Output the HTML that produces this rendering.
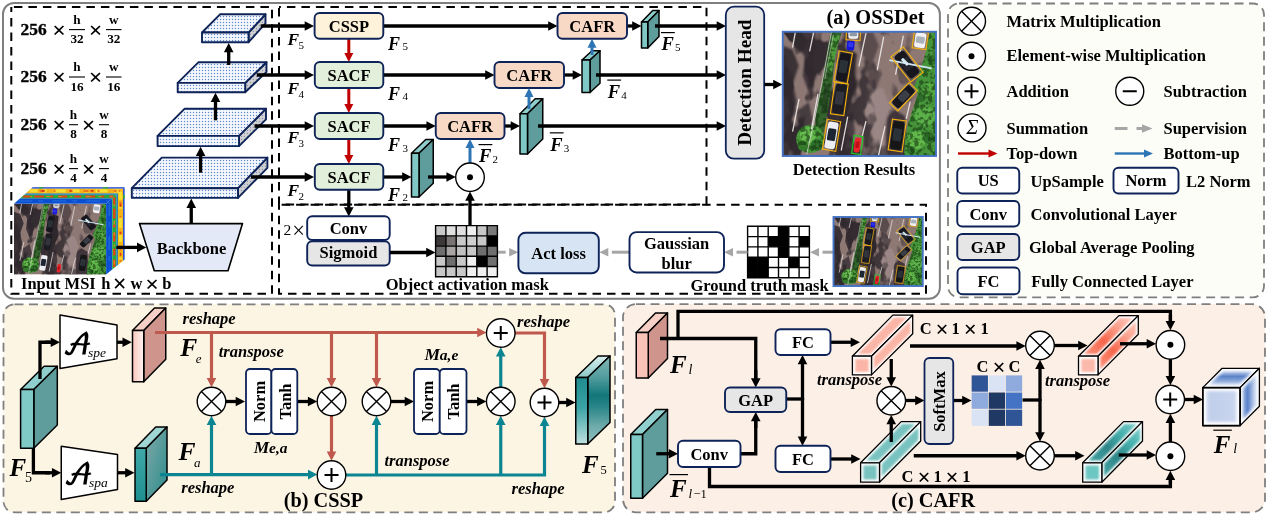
<!DOCTYPE html>
<html><head><meta charset="utf-8"><title>OSSDet</title>
<style>
html,body{margin:0;padding:0;background:#fff;}
body{width:1268px;height:516px;overflow:hidden;}
svg{display:block;will-change:transform;}
</style></head><body>
<svg width="1268" height="516" viewBox="0 0 1268 516" font-family="'Liberation Serif','DejaVu Serif',serif" font-weight="bold" fill="#000">
<defs>
<pattern id="dots" width="3" height="3" patternUnits="userSpaceOnUse"><rect width="3" height="3" fill="#f6f8fd"/><rect x="0.9" y="0.9" width="1.2" height="1.2" fill="#5b86d0"/></pattern>
<pattern id="dotsg" width="3" height="3" patternUnits="userSpaceOnUse"><rect width="3" height="3" fill="#d4d4d4"/><rect x="0.8" y="0.8" width="1.3" height="1.3" fill="#8a96b0"/></pattern>
<linearGradient id="gPinkF" x1="0" y1="0" x2="1" y2="0"><stop offset="0" stop-color="#f9c6bc"/><stop offset="1" stop-color="#fff3f0"/></linearGradient>
<linearGradient id="gTealDF" x1="0" y1="0" x2="0" y2="1"><stop offset="0" stop-color="#3fa9a9"/><stop offset="1" stop-color="#1f8f8f"/></linearGradient>
<linearGradient id="gTealDS" x1="0" y1="0" x2="1" y2="1"><stop offset="0" stop-color="#7fa9a8"/><stop offset="1" stop-color="#2c8c8c"/></linearGradient>
<linearGradient id="gOutF" x1="0" y1="0" x2="0" y2="1"><stop offset="0" stop-color="#1f8c90"/><stop offset="0.45" stop-color="#3aa3a5"/><stop offset="1" stop-color="#bfe0df"/></linearGradient>
<linearGradient id="gOutS" x1="0" y1="0" x2="0" y2="1"><stop offset="0" stop-color="#86b9b8"/><stop offset="0.25" stop-color="#4f9b9c"/><stop offset="0.45" stop-color="#12767a"/><stop offset="0.58" stop-color="#2a8689"/><stop offset="0.8" stop-color="#6fabab"/><stop offset="1" stop-color="#8fbfbe"/></linearGradient>
<linearGradient id="gOutT" x1="0" y1="0" x2="0" y2="1"><stop offset="0" stop-color="#d8eeee"/><stop offset="1" stop-color="#8cc8c8"/></linearGradient>
<linearGradient id="gPbT" x1="0" y1="1" x2="1" y2="0"><stop offset="0" stop-color="#fbb5a5"/><stop offset="0.5" stop-color="#f58a74"/><stop offset="1" stop-color="#fcd5cb"/></linearGradient>
<linearGradient id="gPbS" x1="0" y1="1" x2="1" y2="0"><stop offset="0" stop-color="#fa9f8c"/><stop offset="0.5" stop-color="#f47a62"/><stop offset="1" stop-color="#fde0d8"/></linearGradient>
<radialGradient id="gPbF" cx="0.5" cy="0.5" r="0.7"><stop offset="0" stop-color="#f9a391"/><stop offset="0.6" stop-color="#fbbfb2"/><stop offset="1" stop-color="#fff"/></radialGradient>
<linearGradient id="gTbT" x1="0" y1="1" x2="1" y2="0"><stop offset="0" stop-color="#8fd0cc"/><stop offset="0.5" stop-color="#3f9f9f"/><stop offset="1" stop-color="#b5e0dc"/></linearGradient>
<linearGradient id="gTbS" x1="0" y1="1" x2="1" y2="0"><stop offset="0" stop-color="#6fc4c0"/><stop offset="0.5" stop-color="#2f8f90"/><stop offset="1" stop-color="#a5dcd8"/></linearGradient>
<radialGradient id="gTbF" cx="0.5" cy="0.5" r="0.7"><stop offset="0" stop-color="#5fbab6"/><stop offset="0.6" stop-color="#8fd0cc"/><stop offset="1" stop-color="#fff"/></radialGradient>
<linearGradient id="gCbF" x1="0" y1="0" x2="1" y2="0"><stop offset="0" stop-color="#d0daf0"/><stop offset="0.25" stop-color="#c2cfeb"/><stop offset="0.8" stop-color="#c8d4ed"/><stop offset="1" stop-color="#d5def2"/></linearGradient>
<linearGradient id="gCbT" x1="0" y1="0" x2="0" y2="1"><stop offset="0" stop-color="#eef2fa"/><stop offset="0.22" stop-color="#a9bde4"/><stop offset="0.42" stop-color="#5b83c8"/><stop offset="0.6" stop-color="#7f9fd6"/><stop offset="0.8" stop-color="#b4c6e8"/><stop offset="1" stop-color="#d5def2"/></linearGradient>
<linearGradient id="gCbS" x1="0" y1="0" x2="1" y2="0"><stop offset="0" stop-color="#a9bde4"/><stop offset="0.4" stop-color="#5b83c8"/><stop offset="0.7" stop-color="#b8c9ea"/><stop offset="1" stop-color="#eef2fa"/></linearGradient>
<linearGradient id="gMsiT" x1="0" y1="1" x2="0" y2="0"><stop offset="0" stop-color="#0b3fd0"/><stop offset="0.28" stop-color="#0a50d8"/><stop offset="0.3" stop-color="#30b040"/><stop offset="0.4" stop-color="#e04a10"/><stop offset="0.5" stop-color="#2aa84a"/><stop offset="0.58" stop-color="#1060d0"/><stop offset="0.66" stop-color="#f09010"/><stop offset="0.8" stop-color="#f8d020"/><stop offset="0.9" stop-color="#f09010"/><stop offset="1" stop-color="#1848c8"/></linearGradient>
<linearGradient id="gMsiS" x1="0" y1="0" x2="1" y2="0"><stop offset="0" stop-color="#0b3fd0"/><stop offset="0.28" stop-color="#0a50d8"/><stop offset="0.3" stop-color="#30b040"/><stop offset="0.4" stop-color="#e04a10"/><stop offset="0.5" stop-color="#2aa84a"/><stop offset="0.58" stop-color="#1060d0"/><stop offset="0.66" stop-color="#f09010"/><stop offset="0.8" stop-color="#f8d020"/><stop offset="0.9" stop-color="#f09010"/><stop offset="1" stop-color="#1848c8"/></linearGradient>
<filter id="bl3" x="-20%" y="-20%" width="140%" height="140%"><feGaussianBlur stdDeviation="0.9"/></filter>
<filter id="bl4" x="-20%" y="-20%" width="140%" height="140%"><feGaussianBlur stdDeviation="1.5"/></filter>
<filter id="bl" x="-20%" y="-20%" width="140%" height="140%"><feGaussianBlur stdDeviation="1.3"/></filter>
<filter id="bl2" x="-20%" y="-20%" width="140%" height="140%"><feGaussianBlur stdDeviation="0.6"/></filter>
<filter id="shad" x="0" y="0" width="100%" height="100%" color-interpolation-filters="sRGB"><feTurbulence type="fractalNoise" baseFrequency="0.045 0.03" numOctaves="3" seed="7" result="n"/><feColorMatrix in="n" type="matrix" values="0 0 0 0 0.19  0 0 0 0 0.16  0 0 0 0 0.18  0 0 0 9 -4.3"/><feGaussianBlur stdDeviation="0.5"/><feComposite in2="SourceGraphic" operator="in"/></filter>
<filter id="leaf" x="0" y="0" width="100%" height="100%" color-interpolation-filters="sRGB"><feTurbulence type="fractalNoise" baseFrequency="0.22" numOctaves="2" seed="3" result="n"/><feColorMatrix in="n" type="matrix" values="0 0 0 0 0.08  0 0 0 0 0.22  0 0 0 0 0.06  0 0 0 7 -3.3"/><feComposite in2="SourceGraphic" operator="in"/></filter>
<linearGradient id="shm" x1="0" y1="0" x2="1" y2="0"><stop offset="0" stop-color="#fff" stop-opacity="1"/><stop offset="0.3" stop-color="#fff" stop-opacity="0.95"/><stop offset="0.55" stop-color="#fff" stop-opacity="0.8"/><stop offset="0.75" stop-color="#fff" stop-opacity="0.45"/><stop offset="1" stop-color="#fff" stop-opacity="0.3"/></linearGradient>
<symbol id="scene" viewBox="0 0 153 124" preserveAspectRatio="none">
<rect width="153" height="124" fill="#8d7874"/>
<g filter="url(#bl)">
<polygon points="0,14 10,18 16,34 10,52 14,70 8,88 12,106 6,124 0,124" fill="#3a3035"/>
<polygon points="14,0 30,0 34,16 28,30 34,44 26,60 20,44 22,26 16,14" fill="#40363a"/>
<polygon points="16,78 26,70 30,88 24,104 16,100" fill="#473c40"/>
<polygon points="64,18 74,22 72,40 74,56 68,70 62,90 56,96 58,60 62,40" fill="#2e272b"/>
<polygon points="74,2 90,0 96,14 90,30 98,44 92,60 84,50 86,34 78,20" fill="#5a4b4d"/>
<polygon points="60,84 70,80 72,100 66,124 56,124" fill="#4a3e42"/>
<polygon points="104,84 112,78 122,84 124,124 102,124" fill="#40363a"/>
<polygon points="84,60 100,56 108,76 100,96 104,124 88,124 90,100 82,80" fill="#9a8684"/>
</g>
<rect width="153" height="124" fill="url(#shm)" filter="url(#shad)"/>
<g filter="url(#bl2)">
<polygon points="48,0 59,0 52.5,21 48.5,59 44,84 41,100 33,100 32.5,84 40,47 45,15" fill="#34632d"/>
<polygon points="50,3 57,4 53,22 49,40 45,38 47,20" fill="#4f9c3e"/>
<polygon points="42,52 47,54 44,80 38,82" fill="#2a4a28"/>
<circle cx="27.5" cy="107" r="14" fill="#4a9a3a"/>
<circle cx="25" cy="103" r="8" fill="#66bb50"/>
<circle cx="34" cy="113" r="6" fill="#2f7029"/>
<circle cx="20" cy="114" r="5" fill="#357a2c"/>
<polygon points="147,0 153,0 153,124 121,124 122,108 125,92 129,80 135,62 131,55 137,40 143,20" fill="#47953a"/>
<circle cx="142" cy="84" r="10" fill="#5cb048"/>
<circle cx="134" cy="108" r="9" fill="#62b84c"/>
<circle cx="147" cy="58" r="7" fill="#55a842"/>
<circle cx="146" cy="106" r="6" fill="#2f6f2a"/>
<circle cx="150" cy="28" r="5" fill="#33752c"/>
<circle cx="138" cy="66" r="4" fill="#2f6e29"/>
<circle cx="128" cy="118" r="4" fill="#2f6e29"/>
</g>
<g filter="url(#leaf)" opacity="0.6"><polygon points="48,0 59,0 52.5,21 48.5,59 44,84 41,100 33,100 32.5,84 40,47 45,15"/><polygon points="147,0 153,0 153,124 121,124 122,108 125,92 129,80 135,62 131,55 137,40 143,20"/><circle cx="27.5" cy="107" r="14"/></g>
<g stroke="#ece8e6" stroke-width="1.3" stroke-linecap="round" fill="none" opacity="0.92">
<path d="M12.4 1.3L9.9 15.2"/>
<path d="M30.7 1.3L26.9 19"/>
<path d="M83 1.9L76.1 34.1"/>
<path d="M100.7 5.7L94.4 37.9"/>
<path d="M120.3 4.5L112.7 42.3"/>
<path d="M16.2 67.6L9.9 99.1"/>
<path d="M35.1 62.5L28.8 96.6"/>
<path d="M64.8 85.2L58.5 118"/>
<path d="M83 89.6L79.3 104.2"/>
<path d="M102 94.7L95.7 123"/>
<path d="M127.2 70L123.4 86.5"/>
<path d="M48.5 1L40 47L32.5 84L24 122" stroke-width="0.9" opacity="0.85"/>
<path d="M50.5 3L42 47" stroke-width="0.7" opacity="0.7"/>
</g>
<g filter="url(#bl2)">
<g transform="translate(60.3 35.5) rotate(10)"><rect x="-5.25" y="-14.0" width="10.5" height="28" rx="2.5" fill="#17161c"/><rect x="-4.05" y="-7.0" width="8.1" height="12.6" rx="1.5" fill="#2c3138"/></g>
<g transform="translate(56.5 67) rotate(8)"><rect x="-5.25" y="-14.5" width="10.5" height="29" rx="2.5" fill="#1a1a20"/><rect x="-4.05" y="-7.25" width="8.1" height="13.05" rx="1.5" fill="#30363d"/></g>
<g transform="translate(48.7 103.4) rotate(9.5)"><rect x="-5.25" y="-13.5" width="10.5" height="27" rx="2.5" fill="#eceef2"/><rect x="-4.05" y="-6.75" width="8.1" height="12.15" rx="1.5" fill="#1f2530"/></g>
<g transform="translate(74.5 113) rotate(8)"><rect x="-3.0" y="-7.5" width="6" height="15" rx="2.5" fill="#e8252a"/><rect x="-1.8" y="-3.75" width="3.6" height="6.75" rx="1.5" fill="#c01018"/></g>
<g transform="translate(70.5 3) rotate(0)"><rect x="-5.0" y="-4.0" width="10" height="8" rx="2.5" fill="#f0f0f2"/><rect x="-3.8" y="-2.0" width="7.6" height="3.6" rx="1.5" fill="#9098a0"/></g>
<g transform="translate(67.8 13.3) rotate(5)"><rect x="-3.75" y="-5.25" width="7.5" height="10.5" rx="2" fill="#1414d8"/><rect x="-2.55" y="-2.625" width="5.1" height="4.7250000000000005" rx="1.5" fill="#3038e8"/></g>
<g transform="translate(137.3 8.5) rotate(8)"><rect x="-5.5" y="-7.5" width="11" height="15" rx="2.5" fill="#f2f2f4"/><rect x="-4.3" y="-3.75" width="8.6" height="6.75" rx="1.5" fill="#aab2ba"/></g>
<g transform="translate(124 32.7) rotate(-38)"><rect x="-6.0" y="-14.0" width="12" height="28" rx="2.5" fill="#16161b"/><rect x="-4.8" y="-7.0" width="9.6" height="12.6" rx="1.5" fill="#26282e"/></g>
<g transform="translate(120.5 64.8) rotate(44)"><rect x="-5.0" y="-12.5" width="10" height="25" rx="2.5" fill="#15151a"/><rect x="-3.8" y="-6.25" width="7.6" height="11.25" rx="1.5" fill="#3a3e46"/></g>
<g transform="translate(114.3 103.5) rotate(8)"><rect x="-5.5" y="-14.0" width="11" height="28" rx="2.5" fill="#131318"/><rect x="-4.3" y="-7.0" width="8.6" height="12.6" rx="1.5" fill="#2a3038"/></g>
<path d="M106.4 28.4L148.7 36.6" stroke="#cfe4f2" stroke-width="1.8"/>
<path d="M119 27L125 33" stroke="#d8ecf4" stroke-width="3"/>
</g>
</symbol>
<symbol id="boxes" viewBox="0 0 153 124" preserveAspectRatio="none">
<g fill="none" stroke="#f2b20c" stroke-width="1.15">
<rect transform="translate(60.3 35.5) rotate(10)" x="-6.75" y="-15.5" width="13.5" height="31"/>
<rect transform="translate(56.5 67) rotate(8)" x="-6.75" y="-16.0" width="13.5" height="32"/>
<rect transform="translate(48.7 103.4) rotate(9.5)" x="-6.75" y="-15.0" width="13.5" height="30"/>
<rect transform="translate(74.5 113) rotate(8)" x="-4.5" y="-9.0" width="9" height="18" stroke="#22c822"/>
<rect transform="translate(70.5 2.5) rotate(4)" x="-7.0" y="-6.0" width="14" height="12"/>
<rect transform="translate(137.3 8.5) rotate(8)" x="-7.0" y="-8.5" width="14" height="17"/>
<rect transform="translate(124 32.7) rotate(-38)" x="-7.85" y="-16.0" width="15.7" height="32"/>
<rect transform="translate(120.5 64.8) rotate(44)" x="-5.75" y="-14.1" width="11.5" height="28.2"/>
<rect transform="translate(114.3 103.5) rotate(8)" x="-7.0" y="-15.5" width="14" height="31"/>
</g></symbol>
</defs>
<rect x="3" y="3" width="936.9" height="295.7" rx="11" fill="#fff" stroke="#7f7f7f" stroke-width="2"/>
<rect x="948" y="3.5" width="316" height="293.8" rx="11" fill="#fdfdf8" stroke="#7f7f7f" stroke-width="1.8" stroke-dasharray="9 5.5"/>
<rect x="3.5" y="304.3" width="611.5" height="208" rx="11" fill="#fdf5e4" stroke="#7f7f7f" stroke-width="1.8" stroke-dasharray="9 5.5"/>
<rect x="623" y="304.1" width="642" height="208.2" rx="13" fill="#fcefe6" stroke="#7f7f7f" stroke-width="1.8" stroke-dasharray="9 5.5"/>
<rect x="11.3" y="6.9" width="260.7" height="286.9" fill="none" stroke="#000" stroke-width="2" stroke-dasharray="8.5 6" stroke-dashoffset="-2.6"/>
<rect x="279" y="6.9" width="427.5" height="197.5" fill="none" stroke="#000" stroke-width="2" stroke-dasharray="8.5 6" stroke-dashoffset="-7.9"/>
<rect x="279" y="204.7" width="647" height="89.1" fill="none" stroke="#000" stroke-width="2" stroke-dasharray="8.5 6" stroke-dashoffset="-2.6"/>
<text x="20.5" y="34.6" font-size="17.4" stroke="#000" stroke-width="0.35">256</text>
<text x="52.2" y="37.96" font-size="24" font-weight="bold">×</text>
<text x="77" y="23.9" font-size="13.2" text-anchor="middle" >h</text>
<path d="M69 29.6H85" stroke="#000" stroke-width="1.1"/>
<text x="77" y="43.3" font-size="13.2" text-anchor="middle" >32</text>
<text x="88.8" y="37.96" font-size="24" font-weight="bold">×</text>
<text x="113.75" y="23.9" font-size="13.2" text-anchor="middle" >w</text>
<path d="M106 29.6H121.5" stroke="#000" stroke-width="1.1"/>
<text x="113.75" y="43.3" font-size="13.2" text-anchor="middle" >32</text>
<text x="20.5" y="82" font-size="17.4" stroke="#000" stroke-width="0.35">256</text>
<text x="52.2" y="85.36" font-size="24" font-weight="bold">×</text>
<text x="77" y="71.3" font-size="13.2" text-anchor="middle" >h</text>
<path d="M69 77H85" stroke="#000" stroke-width="1.1"/>
<text x="77" y="90.7" font-size="13.2" text-anchor="middle" >16</text>
<text x="88.8" y="85.36" font-size="24" font-weight="bold">×</text>
<text x="113.75" y="71.3" font-size="13.2" text-anchor="middle" >w</text>
<path d="M106 77H121.5" stroke="#000" stroke-width="1.1"/>
<text x="113.75" y="90.7" font-size="13.2" text-anchor="middle" >16</text>
<text x="20.5" y="129.7" font-size="17.4" stroke="#000" stroke-width="0.35">256</text>
<text x="52.2" y="133.06" font-size="24" font-weight="bold">×</text>
<text x="73.5" y="119" font-size="13.2" text-anchor="middle" >h</text>
<path d="M69 124.7H78" stroke="#000" stroke-width="1.1"/>
<text x="73.5" y="138.4" font-size="13.2" text-anchor="middle" >8</text>
<text x="81.8" y="133.06" font-size="24" font-weight="bold">×</text>
<text x="104" y="119" font-size="13.2" text-anchor="middle" >w</text>
<path d="M99 124.7H109" stroke="#000" stroke-width="1.1"/>
<text x="104" y="138.4" font-size="13.2" text-anchor="middle" >8</text>
<text x="20.5" y="173.6" font-size="17.4" stroke="#000" stroke-width="0.35">256</text>
<text x="52.2" y="176.96" font-size="24" font-weight="bold">×</text>
<text x="73.5" y="162.9" font-size="13.2" text-anchor="middle" >h</text>
<path d="M69 168.6H78" stroke="#000" stroke-width="1.1"/>
<text x="73.5" y="182.3" font-size="13.2" text-anchor="middle" >4</text>
<text x="81.8" y="176.96" font-size="24" font-weight="bold">×</text>
<text x="104" y="162.9" font-size="13.2" text-anchor="middle" >w</text>
<path d="M99 168.6H109" stroke="#000" stroke-width="1.1"/>
<text x="104" y="182.3" font-size="13.2" text-anchor="middle" >4</text>
<polygon points="139.5,223.6 242.5,223.6 228,270.7 154.3,270.7" fill="#e3e9f6" stroke="#000" stroke-width="1.6" stroke-linejoin="round" />
<text x="191.5" y="254" font-size="16.5" text-anchor="middle" >Backbone</text>
<polyline points="191.25,223.5 191.25,206.9" fill="none" stroke="#000" stroke-width="3.3" stroke-linejoin="miter" />
<polygon points="191.25,198.6 196.05,207.9 186.45,207.9" fill="#000"/>
<polygon points="238,188.2 267.4,157.6 267.4,167.8 238,197.9" fill="url(#dotsg)" stroke="#0e2358" stroke-width="1.9" stroke-linejoin="round" />
<polygon points="161.8,157.6 267.4,157.6 238,188.2 131.8,188.2" fill="url(#dots)" stroke="#0e2358" stroke-width="1.9" stroke-linejoin="round" />
<polygon points="131.8,188.2 238,188.2 238,197.9 131.8,197.9" fill="url(#dots)" stroke="#0e2358" stroke-width="1.9" stroke-linejoin="round" />
<polyline points="200.6,172.7 200.6,155.1" fill="none" stroke="#000" stroke-width="3.3" stroke-linejoin="miter" />
<polygon points="200.6,146.8 205.4,156.1 195.8,156.1" fill="#000"/>
<polygon points="239,135.9 266,108.7 266,119.4 239,146.1" fill="url(#dotsg)" stroke="#0e2358" stroke-width="1.9" stroke-linejoin="round" />
<polygon points="184.7,108.7 266,108.7 239,135.9 157.6,135.9" fill="url(#dots)" stroke="#0e2358" stroke-width="1.9" stroke-linejoin="round" />
<polygon points="157.6,135.9 239,135.9 239,146.1 157.6,146.1" fill="url(#dots)" stroke="#0e2358" stroke-width="1.9" stroke-linejoin="round" />
<polyline points="215.5,120.3 215.5,101.1" fill="none" stroke="#000" stroke-width="3.3" stroke-linejoin="miter" />
<polygon points="215.5,92.8 220.3,102.1 210.7,102.1" fill="#000"/>
<polygon points="245.2,82.9 266.5,62.2 266.5,71.9 245.2,92.2" fill="url(#dotsg)" stroke="#0e2358" stroke-width="1.9" stroke-linejoin="round" />
<polygon points="198.6,62.2 266.5,62.2 245.2,82.9 177.7,82.9" fill="url(#dots)" stroke="#0e2358" stroke-width="1.9" stroke-linejoin="round" />
<polygon points="177.7,82.9 245.2,82.9 245.2,92.2 177.7,92.2" fill="url(#dots)" stroke="#0e2358" stroke-width="1.9" stroke-linejoin="round" />
<polyline points="228.7,65 228.7,51.3" fill="none" stroke="#000" stroke-width="3.3" stroke-linejoin="miter" />
<polygon points="228.7,43 233.5,52.3 223.9,52.3" fill="#000"/>
<polygon points="248.6,32.5 265.5,14.3 265.5,23.4 248.6,42.2" fill="url(#dotsg)" stroke="#0e2358" stroke-width="1.9" stroke-linejoin="round" />
<polygon points="220,14.3 265.5,14.3 248.6,32.5 202,32.5" fill="url(#dots)" stroke="#0e2358" stroke-width="1.9" stroke-linejoin="round" />
<polygon points="202,32.5 248.6,32.5 248.6,42.2 202,42.2" fill="url(#dots)" stroke="#0e2358" stroke-width="1.9" stroke-linejoin="round" />
<polygon points="14,203.8 20.17,198.32 112.2,198.32 106.1,203.8" fill="#0a4fd2"/>
<polygon points="106.1,203.8 112.2,198.32 112.2,269.62 106.1,274.6" fill="#0a4fd2"/>
<polygon points="20.17,198.32 24.29,194.67 116.27,194.67 112.2,198.32" fill="#28a838"/>
<polygon points="112.2,198.32 116.27,194.67 116.27,266.3 112.2,269.62" fill="#28a838"/>
<polygon points="24.29,194.67 25.97,193.18 117.94,193.18 116.27,194.67" fill="#1278b8"/>
<polygon points="116.27,194.67 117.94,193.18 117.94,264.94 116.27,266.3" fill="#1278b8"/>
<polygon points="25.97,193.18 31.2,188.53 123.12,188.53 117.94,193.18" fill="#f6b414"/>
<polygon points="117.94,193.18 123.12,188.53 123.12,260.71 117.94,264.94" fill="#f6b414"/>
<polygon points="31.2,188.53 32.7,187.2 124.6,187.2 123.12,188.53" fill="#1040d0"/>
<polygon points="123.12,188.53 124.6,187.2 124.6,259.5 123.12,260.71" fill="#1040d0"/>
<path d="M23.23 196.5L113.24 196.5" stroke="#e8401a" stroke-width="2.2" stroke-dasharray="7 4 10 6 3 5 9 7" stroke-dashoffset="0" fill="none"/>
<path d="M114.24 197.5L114.24 266.96" stroke="#e8401a" stroke-width="2.2" stroke-dasharray="7 4 10 6 3 5 9 7" stroke-dashoffset="0" fill="none"/>
<path d="M23.23 196.5L113.24 196.5" stroke="#f08020" stroke-width="1.2" stroke-dasharray="3 9 2 14 4 8" stroke-dashoffset="5" fill="none"/>
<path d="M114.24 197.5L114.24 266.96" stroke="#f08020" stroke-width="1.2" stroke-dasharray="3 9 2 14 4 8" stroke-dashoffset="5" fill="none"/>
<path d="M29.59 190.85L119.53 190.85" stroke="#f8e030" stroke-width="3.4" stroke-dasharray="8 5 4 7 12 6" stroke-dashoffset="0" fill="none"/>
<path d="M120.53 191.85L120.53 261.82" stroke="#f8e030" stroke-width="3.4" stroke-dasharray="8 5 4 7 12 6" stroke-dashoffset="0" fill="none"/>
<path d="M29.59 190.85L119.53 190.85" stroke="#f07818" stroke-width="2.4" stroke-dasharray="3 11 5 9 2 14" stroke-dashoffset="4" fill="none"/>
<path d="M120.53 191.85L120.53 261.82" stroke="#f07818" stroke-width="2.4" stroke-dasharray="3 11 5 9 2 14" stroke-dashoffset="4" fill="none"/>
<path d="M29.59 190.85L119.53 190.85" stroke="#e03a14" stroke-width="1.6" stroke-dasharray="2 19 3 25" stroke-dashoffset="9" fill="none"/>
<path d="M120.53 191.85L120.53 261.82" stroke="#e03a14" stroke-width="1.6" stroke-dasharray="2 19 3 25" stroke-dashoffset="9" fill="none"/>
<path d="M18.18 200.98L108.24 200.98" stroke="#1c66d8" stroke-width="1.6" stroke-dasharray="14 6 5 9" stroke-dashoffset="0" fill="none"/>
<path d="M109.24 201.98L109.24 271.03" stroke="#1c66d8" stroke-width="1.6" stroke-dasharray="14 6 5 9" stroke-dashoffset="0" fill="none"/>
<path d="M32.95 187.86L122.86 187.86" stroke="#30b030" stroke-width="1.4" stroke-dasharray="4 60 5 200" stroke-dashoffset="-6" fill="none"/>
<path d="M123.86 188.86L123.86 259.1" stroke="#30b030" stroke-width="1.4" stroke-dasharray="4 60 5 200" stroke-dashoffset="-6" fill="none"/>
<use href="#scene" x="14" y="203.8" width="92.1" height="70.8"/>
<polyline points="116.3,247.4 138,247.4" fill="none" stroke="#000" stroke-width="3.3" stroke-linejoin="miter" />
<polygon points="146.3,247.4 137,252.2 137,242.6" fill="#000"/>
<text x="21" y="288.9" font-size="16.5" >Input MSI</text>
<text x="101.3" y="288.9" font-size="16.5" >h</text>
<text x="112.76" y="292.43" font-size="24.5" font-weight="bold">×</text>
<text x="130.5" y="288.9" font-size="16.5" >w</text>
<text x="145.2" y="292.26" font-size="24" font-weight="bold">×</text>
<text x="162.3" y="288.9" font-size="16.5" >b</text>
<polyline points="260.7,26 305.7,26" fill="none" stroke="#000" stroke-width="3.3" stroke-linejoin="miter" />
<polygon points="314,26 304.7,30.8 304.7,21.2" fill="#000"/>
<polyline points="256.8,75 305.7,75" fill="none" stroke="#000" stroke-width="3.3" stroke-linejoin="miter" />
<polygon points="314,75 304.7,79.8 304.7,70.2" fill="#000"/>
<polyline points="254.5,126 305.7,126" fill="none" stroke="#000" stroke-width="3.3" stroke-linejoin="miter" />
<polygon points="314,126 304.7,130.8 304.7,121.2" fill="#000"/>
<polyline points="251,177 305.7,177" fill="none" stroke="#000" stroke-width="3.3" stroke-linejoin="miter" />
<polygon points="314,177 304.7,181.8 304.7,172.2" fill="#000"/>
<polyline points="383,26 549.2,26" fill="none" stroke="#000" stroke-width="3.3" stroke-linejoin="miter" />
<polygon points="557.5,26 548.2,30.8 548.2,21.2" fill="#000"/>
<polyline points="383,75 486.2,75" fill="none" stroke="#000" stroke-width="3.3" stroke-linejoin="miter" />
<polygon points="494.5,75 485.2,79.8 485.2,70.2" fill="#000"/>
<polyline points="383,126 427.45,126" fill="none" stroke="#000" stroke-width="3.3" stroke-linejoin="miter" />
<polygon points="435.75,126 426.45,130.8 426.45,121.2" fill="#000"/>
<polyline points="383,177 403.2,177" fill="none" stroke="#000" stroke-width="3.3" stroke-linejoin="miter" />
<polygon points="411.5,177 402.2,181.8 402.2,172.2" fill="#000"/>
<polyline points="504.5,126 511.7,126" fill="none" stroke="#000" stroke-width="3.3" stroke-linejoin="miter" />
<polygon points="520,126 510.7,130.8 510.7,121.2" fill="#000"/>
<polyline points="564,75 573.7,75" fill="none" stroke="#000" stroke-width="3.3" stroke-linejoin="miter" />
<polygon points="582,75 572.7,79.8 572.7,70.2" fill="#000"/>
<polyline points="627,26 633.2,26" fill="none" stroke="#000" stroke-width="3.3" stroke-linejoin="miter" />
<polygon points="641.5,26 632.2,30.8 632.2,21.2" fill="#000"/>
<polyline points="348.8,38.7 348.8,54" fill="none" stroke="#c00000" stroke-width="3" stroke-linejoin="miter" />
<polygon points="348.8,62 344.3,53 353.3,53" fill="#c00000"/>
<polyline points="348.8,88 348.8,105" fill="none" stroke="#c00000" stroke-width="3" stroke-linejoin="miter" />
<polygon points="348.8,113 344.3,104 353.3,104" fill="#c00000"/>
<polyline points="348.8,139 348.8,156" fill="none" stroke="#c00000" stroke-width="3" stroke-linejoin="miter" />
<polygon points="348.8,164 344.3,155 353.3,155" fill="#c00000"/>
<polyline points="348.8,189.7 348.8,208.2" fill="none" stroke="#000" stroke-width="3.3" stroke-linejoin="miter" />
<polygon points="348.8,216.5 344,207.2 353.6,207.2" fill="#000"/>
<rect x="314.6" y="13" width="68.7" height="25.75" rx="5" fill="#fef2da" stroke="#0e2358" stroke-width="1.9" />
<text x="348.95" y="32.08" font-size="16.5" text-anchor="middle" >CSSP</text>
<rect x="314.8" y="62" width="68.5" height="26" rx="5" fill="#e2efda" stroke="#0e2358" stroke-width="1.9" />
<text x="349.05" y="81.2" font-size="16.5" text-anchor="middle" >SACF</text>
<rect x="314.8" y="113" width="68.5" height="26" rx="5" fill="#e2efda" stroke="#0e2358" stroke-width="1.9" />
<text x="349.05" y="132.2" font-size="16.5" text-anchor="middle" >SACF</text>
<rect x="314.8" y="164" width="68.5" height="25.75" rx="5" fill="#e2efda" stroke="#0e2358" stroke-width="1.9" />
<text x="349.05" y="183.07" font-size="16.5" text-anchor="middle" >SACF</text>
<rect x="557.5" y="13" width="69.5" height="25.75" rx="5" fill="#f8d9c6" stroke="#0e2358" stroke-width="1.9" />
<text x="592.25" y="32.08" font-size="16.5" text-anchor="middle" >CAFR</text>
<rect x="494.5" y="62" width="69.5" height="26" rx="5" fill="#f8d9c6" stroke="#0e2358" stroke-width="1.9" />
<text x="529.25" y="81.2" font-size="16.5" text-anchor="middle" >CAFR</text>
<rect x="435.75" y="113" width="68.75" height="26" rx="5" fill="#f8d9c6" stroke="#0e2358" stroke-width="1.9" />
<text x="470.12" y="132.2" font-size="16.5" text-anchor="middle" >CAFR</text>
<polygon points="411.5,153.25 425.75,139.5 433.25,139.5 419,153.25" fill="#8fd0ce" stroke="#000" stroke-width="1.5" stroke-linejoin="round" />
<polygon points="419,153.25 433.25,139.5 433.25,183.25 419,197" fill="#5f9c9c" stroke="#000" stroke-width="1.5" stroke-linejoin="round" />
<polygon points="411.5,153.25 419,153.25 419,197 411.5,197" fill="#7fc8c6" stroke="#000" stroke-width="1.5" stroke-linejoin="round" />
<polygon points="520,113.75 535.25,98.75 542.75,98.75 527.5,113.75" fill="#8fd0ce" stroke="#000" stroke-width="1.5" stroke-linejoin="round" />
<polygon points="527.5,113.75 542.75,98.75 542.75,139 527.5,154" fill="#5f9c9c" stroke="#000" stroke-width="1.5" stroke-linejoin="round" />
<polygon points="520,113.75 527.5,113.75 527.5,154 520,154" fill="#7fc8c6" stroke="#000" stroke-width="1.5" stroke-linejoin="round" />
<polygon points="582,60 592,50.75 600,50.75 590,60" fill="#8fd0ce" stroke="#000" stroke-width="1.5" stroke-linejoin="round" />
<polygon points="590,60 600,50.75 600,83.25 590,92.5" fill="#5f9c9c" stroke="#000" stroke-width="1.5" stroke-linejoin="round" />
<polygon points="582,60 590,60 590,92.5 582,92.5" fill="#7fc8c6" stroke="#000" stroke-width="1.5" stroke-linejoin="round" />
<polygon points="641.5,22 652.75,10.5 659,10.5 647.75,22" fill="#8fd0ce" stroke="#000" stroke-width="1.5" stroke-linejoin="round" />
<polygon points="647.75,22 659,10.5 659,36.5 647.75,48" fill="#5f9c9c" stroke="#000" stroke-width="1.5" stroke-linejoin="round" />
<polygon points="641.5,22 647.75,22 647.75,48 641.5,48" fill="#7fc8c6" stroke="#000" stroke-width="1.5" stroke-linejoin="round" />
<polyline points="428,177 447.45,177" fill="none" stroke="#000" stroke-width="3.3" stroke-linejoin="miter" />
<polygon points="455.75,177 446.45,181.8 446.45,172.2" fill="#000"/>
<polyline points="538,126 717.7,126" fill="none" stroke="#000" stroke-width="3.3" stroke-linejoin="miter" />
<polygon points="726,126 716.7,130.8 716.7,121.2" fill="#000"/>
<polyline points="596,75 717.7,75" fill="none" stroke="#000" stroke-width="3.3" stroke-linejoin="miter" />
<polygon points="726,75 716.7,79.8 716.7,70.2" fill="#000"/>
<polyline points="655,26 717.7,26" fill="none" stroke="#000" stroke-width="3.3" stroke-linejoin="miter" />
<polygon points="726,26 716.7,30.8 716.7,21.2" fill="#000"/>
<polyline points="470,163 470,147" fill="none" stroke="#2e75b6" stroke-width="3" stroke-linejoin="miter" />
<polygon points="470,139 474.5,148 465.5,148" fill="#2e75b6"/>
<polyline points="529,109 529,96" fill="none" stroke="#2e75b6" stroke-width="3" stroke-linejoin="miter" />
<polygon points="529,88 533.5,97 524.5,97" fill="#2e75b6"/>
<polyline points="592,55 592,46.8" fill="none" stroke="#2e75b6" stroke-width="3" stroke-linejoin="miter" />
<polygon points="592,38.8 596.5,47.8 587.5,47.8" fill="#2e75b6"/>
<circle cx="470" cy="177.25" r="14.3" fill="#fff" stroke="#000" stroke-width="1.4"/>
<circle cx="470" cy="177.25" r="3" fill="#000"/>
<polyline points="470,225 470,199.8" fill="none" stroke="#000" stroke-width="3.3" stroke-linejoin="miter" />
<polygon points="470,191.5 474.8,200.8 465.2,200.8" fill="#000"/>
<text x="287.5" y="45.3" font-size="17.4" font-style="italic">F</text>
<text x="298.5" y="49.3" font-size="11" font-style="normal" font-weight="normal">5</text>
<text x="287.5" y="94.05" font-size="17.4" font-style="italic">F</text>
<text x="298.5" y="98.05" font-size="11" font-style="normal" font-weight="normal">4</text>
<text x="287.5" y="143.05" font-size="17.4" font-style="italic">F</text>
<text x="298.5" y="147.05" font-size="11" font-style="normal" font-weight="normal">3</text>
<text x="287.5" y="195.55" font-size="17.4" font-style="italic">F</text>
<text x="298.5" y="199.55" font-size="11" font-style="normal" font-weight="normal">2</text>
<text x="388" y="49.55" font-size="18" font-style="italic">F</text>
<text x="402.5" y="49.95" font-size="11" font-style="normal" font-weight="normal">5</text>
<text x="388" y="99.55" font-size="18" font-style="italic">F</text>
<text x="402.5" y="99.95" font-size="11" font-style="normal" font-weight="normal">4</text>
<text x="388" y="151.3" font-size="18" font-style="italic">F</text>
<text x="402.5" y="151.7" font-size="11" font-style="normal" font-weight="normal">3</text>
<text x="388" y="200.9" font-size="18" font-style="italic">F</text>
<text x="402.5" y="201.3" font-size="11" font-style="normal" font-weight="normal">2</text>
<text x="661.5" y="50.3" font-size="18.5" font-style="italic">F</text>
<text x="675" y="51.3" font-size="11" font-style="normal" font-weight="normal">5</text>
<path d="M661 32.6H674.82" stroke="#000" stroke-width="1.2"/>
<text x="607.8" y="97.8" font-size="18.5" font-style="italic">F</text>
<text x="621.3" y="98.8" font-size="11" font-style="normal" font-weight="normal">4</text>
<path d="M607.3 80.1H621.12" stroke="#000" stroke-width="1.2"/>
<text x="550.3" y="150.55" font-size="18.5" font-style="italic">F</text>
<text x="563.8" y="151.55" font-size="11" font-style="normal" font-weight="normal">3</text>
<path d="M549.8 132.85H563.62" stroke="#000" stroke-width="1.2"/>
<text x="479" y="162.3" font-size="18.5" font-style="italic">F</text>
<text x="492.5" y="163.3" font-size="11" font-style="normal" font-weight="normal">2</text>
<path d="M478.5 144.6H492.32" stroke="#000" stroke-width="1.2"/>
<rect x="725.8" y="6.7" width="38.4" height="152" rx="8" fill="#e7e6e6" stroke="#0e2358" stroke-width="1.8"/>
<text transform="translate(751 82.7) rotate(-90)" font-size="19.2" text-anchor="middle">Detection Head</text>
<polyline points="764.5,84.5 774.2,84.5" fill="none" stroke="#000" stroke-width="3.3" stroke-linejoin="miter" />
<polygon points="782.5,84.5 773.2,89.3 773.2,79.7" fill="#000"/>
<text x="826.5" y="24.1" font-size="20.4" >(a) OSSDet</text>
<use href="#scene" x="782.75" y="31.75" width="153.25" height="124.25"/>
<use href="#boxes" x="782.75" y="31.75" width="153.25" height="124.25"/>
<rect x="782.75" y="31.75" width="153.25" height="124.25" fill="none" stroke="#4472c4" stroke-width="1.9"/>
<text x="854" y="175.45" font-size="16.5" text-anchor="middle" >Detection Results</text>
<text x="283.6" y="234.6" font-size="15.5" font-weight="normal" >2</text>
<text x="292.21" y="237.65" font-size="22.5" font-weight="normal">×</text>
<rect x="307.2" y="216.3" width="82.5" height="23.7" rx="5" fill="#fff" stroke="#0e2358" stroke-width="1.9" />
<text x="348.45" y="234.35" font-size="16.5" text-anchor="middle" >Conv</text>
<rect x="307.2" y="241.2" width="82.5" height="24.3" rx="5" fill="#e7e6e6" stroke="#0e2358" stroke-width="1.9" />
<text x="348.45" y="258.25" font-size="16.5" text-anchor="middle" >Sigmoid</text>
<polyline points="390,252.5 427.2,252.5" fill="none" stroke="#000" stroke-width="3.3" stroke-linejoin="miter" />
<polygon points="435.5,252.5 426.2,257.3 426.2,247.7" fill="#000"/>
<rect x="435.6" y="225.6" width="10.3" height="10.24" fill="#c8c8c8"/>
<rect x="445.9" y="225.6" width="10.3" height="10.24" fill="#e0e0e0"/>
<rect x="456.2" y="225.6" width="10.3" height="10.24" fill="#e0dede"/>
<rect x="466.5" y="225.6" width="10.3" height="10.24" fill="#f0f0f0"/>
<rect x="476.8" y="225.6" width="10.3" height="10.24" fill="#c8c8c8"/>
<rect x="487.1" y="225.6" width="10.3" height="10.24" fill="#7a7a7a"/>
<rect x="435.6" y="235.84" width="10.3" height="10.24" fill="#3c3838"/>
<rect x="445.9" y="235.84" width="10.3" height="10.24" fill="#7a7474"/>
<rect x="456.2" y="235.84" width="10.3" height="10.24" fill="#c8c8c8"/>
<rect x="466.5" y="235.84" width="10.3" height="10.24" fill="#d0cece"/>
<rect x="476.8" y="235.84" width="10.3" height="10.24" fill="#c8c8c8"/>
<rect x="487.1" y="235.84" width="10.3" height="10.24" fill="#000000"/>
<rect x="435.6" y="246.08" width="10.3" height="10.24" fill="#6e6e6e"/>
<rect x="445.9" y="246.08" width="10.3" height="10.24" fill="#a8a4a4"/>
<rect x="456.2" y="246.08" width="10.3" height="10.24" fill="#c0c0c0"/>
<rect x="466.5" y="246.08" width="10.3" height="10.24" fill="#c8c8c8"/>
<rect x="476.8" y="246.08" width="10.3" height="10.24" fill="#6e6e6e"/>
<rect x="487.1" y="246.08" width="10.3" height="10.24" fill="#6e6e6e"/>
<rect x="435.6" y="256.32" width="10.3" height="10.24" fill="#c8c8c8"/>
<rect x="445.9" y="256.32" width="10.3" height="10.24" fill="#6e6e6e"/>
<rect x="456.2" y="256.32" width="10.3" height="10.24" fill="#c8c8c8"/>
<rect x="466.5" y="256.32" width="10.3" height="10.24" fill="#f0f0f0"/>
<rect x="476.8" y="256.32" width="10.3" height="10.24" fill="#000000"/>
<rect x="487.1" y="256.32" width="10.3" height="10.24" fill="#707070"/>
<rect x="435.6" y="266.56" width="10.3" height="10.24" fill="#c8c8c8"/>
<rect x="445.9" y="266.56" width="10.3" height="10.24" fill="#c8c8c8"/>
<rect x="456.2" y="266.56" width="10.3" height="10.24" fill="#c8c8c8"/>
<rect x="466.5" y="266.56" width="10.3" height="10.24" fill="#f0f0f0"/>
<rect x="476.8" y="266.56" width="10.3" height="10.24" fill="#f0f0f0"/>
<rect x="487.1" y="266.56" width="10.3" height="10.24" fill="#f0f0f0"/>
<path d="M435.6 225.6H497.4M435.6 235.84H497.4M435.6 246.08H497.4M435.6 256.32H497.4M435.6 266.56H497.4M435.6 276.8H497.4M435.6 225.6V276.8M445.9 225.6V276.8M456.2 225.6V276.8M466.5 225.6V276.8M476.8 225.6V276.8M487.1 225.6V276.8M497.4 225.6V276.8" stroke="#000" stroke-width="1.4" fill="none" stroke-linecap="square"/>
<rect x="747.6" y="226.3" width="10.3" height="10.3" fill="#fff"/>
<rect x="757.9" y="226.3" width="10.3" height="10.3" fill="#fff"/>
<rect x="768.2" y="226.3" width="10.3" height="10.3" fill="#fff"/>
<rect x="778.5" y="226.3" width="10.3" height="10.3" fill="#000"/>
<rect x="788.8" y="226.3" width="10.3" height="10.3" fill="#fff"/>
<rect x="799.1" y="226.3" width="10.3" height="10.3" fill="#fff"/>
<rect x="747.6" y="236.6" width="10.3" height="10.3" fill="#fff"/>
<rect x="757.9" y="236.6" width="10.3" height="10.3" fill="#fff"/>
<rect x="768.2" y="236.6" width="10.3" height="10.3" fill="#000"/>
<rect x="778.5" y="236.6" width="10.3" height="10.3" fill="#000"/>
<rect x="788.8" y="236.6" width="10.3" height="10.3" fill="#fff"/>
<rect x="799.1" y="236.6" width="10.3" height="10.3" fill="#000"/>
<rect x="747.6" y="246.9" width="10.3" height="10.3" fill="#fff"/>
<rect x="757.9" y="246.9" width="10.3" height="10.3" fill="#fff"/>
<rect x="768.2" y="246.9" width="10.3" height="10.3" fill="#fff"/>
<rect x="778.5" y="246.9" width="10.3" height="10.3" fill="#000"/>
<rect x="788.8" y="246.9" width="10.3" height="10.3" fill="#fff"/>
<rect x="799.1" y="246.9" width="10.3" height="10.3" fill="#fff"/>
<rect x="747.6" y="257.2" width="10.3" height="10.3" fill="#000"/>
<rect x="757.9" y="257.2" width="10.3" height="10.3" fill="#000"/>
<rect x="768.2" y="257.2" width="10.3" height="10.3" fill="#fff"/>
<rect x="778.5" y="257.2" width="10.3" height="10.3" fill="#fff"/>
<rect x="788.8" y="257.2" width="10.3" height="10.3" fill="#000"/>
<rect x="799.1" y="257.2" width="10.3" height="10.3" fill="#fff"/>
<rect x="747.6" y="267.5" width="10.3" height="10.3" fill="#000"/>
<rect x="757.9" y="267.5" width="10.3" height="10.3" fill="#000"/>
<rect x="768.2" y="267.5" width="10.3" height="10.3" fill="#fff"/>
<rect x="778.5" y="267.5" width="10.3" height="10.3" fill="#fff"/>
<rect x="788.8" y="267.5" width="10.3" height="10.3" fill="#fff"/>
<rect x="799.1" y="267.5" width="10.3" height="10.3" fill="#fff"/>
<path d="M747.6 226.3H809.4M747.6 236.6H809.4M747.6 246.9H809.4M747.6 257.2H809.4M747.6 267.5H809.4M747.6 277.8H809.4M747.6 226.3V277.8M757.9 226.3V277.8M768.2 226.3V277.8M778.5 226.3V277.8M788.8 226.3V277.8M799.1 226.3V277.8M809.4 226.3V277.8" stroke="#000" stroke-width="1.4" fill="none" stroke-linecap="square"/>
<polygon points="518.2,252.2 509.2,247.9 509.2,256.5" fill="#a6a6a6"/>
<path d="M498 252.2H505.7" stroke="#a6a6a6" stroke-width="3"/>
<polygon points="599.3,252.2 608.3,247.9 608.3,256.5" fill="#a6a6a6"/>
<path d="M629.5 252.2H611.8" stroke="#a6a6a6" stroke-width="3"/>
<polygon points="724,252.2 733,247.9 733,256.5" fill="#a6a6a6"/>
<path d="M747.5 252.2H736.5" stroke="#a6a6a6" stroke-width="3"/>
<polygon points="810,252.2 819,247.9 819,256.5" fill="#a6a6a6"/>
<path d="M833.5 252.2H822.5" stroke="#a6a6a6" stroke-width="3"/>
<rect x="518.4" y="232.8" width="80.4" height="40.5" rx="7" fill="#d6e4f3" stroke="#0e2358" stroke-width="1.9" />
<text x="558.6" y="258.95" font-size="16.5" text-anchor="middle" >Act loss</text>
<rect x="629.5" y="232.1" width="94.5" height="40.4" rx="7" fill="#fff" stroke="#0e2358" stroke-width="1.9" />
<text x="676.6" y="249.2" font-size="16.5" text-anchor="middle" >Gaussian</text>
<text x="676.6" y="269.2" font-size="16.5" text-anchor="middle" >blur</text>
<use href="#scene" x="833.5" y="217" width="89.25" height="69"/>
<use href="#boxes" x="833.5" y="217" width="89.25" height="69"/>
<rect x="833.5" y="217" width="89.25" height="69" fill="none" stroke="#4472c4" stroke-width="1.9"/>
<text x="385.75" y="290" font-size="16.5" >Object activation mask</text>
<text x="690.5" y="291.2" font-size="16.5" >Ground truth mask</text>
<polygon points="20.6,389.5 44.1,366.2 57.3,366.2 33.8,389.5" fill="#8fd0ce" stroke="#000" stroke-width="1.5" stroke-linejoin="round" />
<polygon points="33.8,389.5 57.3,366.2 57.3,424.95 33.8,448.25" fill="#5f9c9c" stroke="#000" stroke-width="1.5" stroke-linejoin="round" />
<polygon points="20.6,389.5 33.8,389.5 33.8,448.25 20.6,448.25" fill="#7fc9c7" stroke="#000" stroke-width="1.5" stroke-linejoin="round" />
<polyline points="40,379 40,342.25 52,342.25" fill="none" stroke="#000" stroke-width="3.3" stroke-linejoin="miter" />
<polyline points="45,342.25 51.7,342.25" fill="none" stroke="#000" stroke-width="3.3" stroke-linejoin="miter" />
<polygon points="60,342.25 50.7,347.05 50.7,337.45" fill="#000"/>
<polyline points="33.4,448 33.4,472.75 50,472.75" fill="none" stroke="#000" stroke-width="3.3" stroke-linejoin="miter" />
<polyline points="45,472.75 52.95,472.75" fill="none" stroke="#000" stroke-width="3.3" stroke-linejoin="miter" />
<polygon points="61.25,472.75 51.95,477.55 51.95,467.95" fill="#000"/>
<text x="9.5" y="476.05" font-size="25" font-style="italic">F</text>
<text x="25" y="482.05" font-size="14" font-style="normal" font-weight="normal">5</text>
<polygon points="60,315 117,325 117,358.75 60,368.5" fill="#fff" stroke="#000" stroke-width="1.5" stroke-linejoin="round" />
<polygon points="61.25,446.25 117.5,454.5 117.5,489.5 61.25,499.5" fill="#fff" stroke="#000" stroke-width="1.5" stroke-linejoin="round" />
<text x="63" y="353.7" font-size="27" font-family="'DejaVu Math TeX Gyre','DejaVu Serif','Liberation Serif',serif" >𝒜</text>
<text x="88" y="357.2" font-size="13.5" font-weight="normal" font-style="italic" >spe</text>
<text x="64" y="484.2" font-size="27" font-family="'DejaVu Math TeX Gyre','DejaVu Serif','Liberation Serif',serif" >𝒜</text>
<text x="89" y="487.2" font-size="13.5" font-weight="normal" font-style="italic" >spa</text>
<polyline points="117,342.25 123.5,342.25" fill="none" stroke="#000" stroke-width="3.3" stroke-linejoin="miter" />
<polygon points="131.8,342.25 122.5,347.05 122.5,337.45" fill="#000"/>
<polyline points="117.5,472.75 126.2,472.75" fill="none" stroke="#000" stroke-width="3.3" stroke-linejoin="miter" />
<polygon points="134.5,472.75 125.2,477.55 125.2,467.95" fill="#000"/>
<polygon points="132.5,330.5 154.5,308 165.75,308 143.75,330.5" fill="#f6cfc6" stroke="#000" stroke-width="1.5" stroke-linejoin="round" />
<polygon points="143.75,330.5 165.75,308 165.75,359.25 143.75,381.75" fill="#cf958c" stroke="#000" stroke-width="1.5" stroke-linejoin="round" />
<polygon points="132.5,330.5 143.75,330.5 143.75,381.75 132.5,381.75" fill="url(#gPinkF)" stroke="#000" stroke-width="1.5" stroke-linejoin="round" />
<polygon points="135,448.25 155.75,427 167,427 146.25,448.25" fill="#9fd6d4" stroke="#000" stroke-width="1.5" stroke-linejoin="round" />
<polygon points="146.25,448.25 167,427 167,480 146.25,501.25" fill="url(#gTealDS)" stroke="#000" stroke-width="1.5" stroke-linejoin="round" />
<polygon points="135,448.25 146.25,448.25 146.25,501.25 135,501.25" fill="url(#gTealDF)" stroke="#000" stroke-width="1.5" stroke-linejoin="round" />
<polyline points="155,332.5 478.2,332.5" fill="none" stroke="#c0594d" stroke-width="3.2" stroke-linejoin="miter" />
<polygon points="486.5,332.5 477.2,337.3 477.2,327.7" fill="#c0594d"/>
<polyline points="211.5,332.5 211.5,379" fill="none" stroke="#c0594d" stroke-width="3.2" stroke-linejoin="miter" />
<polygon points="211.5,387.3 206.7,378 216.3,378" fill="#c0594d"/>
<polyline points="331.5,332.5 331.5,379" fill="none" stroke="#c0594d" stroke-width="3.2" stroke-linejoin="miter" />
<polygon points="331.5,387.3 326.7,378 336.3,378" fill="#c0594d"/>
<polyline points="376.5,332.5 376.5,379" fill="none" stroke="#c0594d" stroke-width="3.2" stroke-linejoin="miter" />
<polygon points="376.5,387.3 371.7,378 381.3,378" fill="#c0594d"/>
<polyline points="331.5,416 331.5,452.4" fill="none" stroke="#c0594d" stroke-width="3.2" stroke-linejoin="miter" />
<polygon points="331.5,460.7 326.7,451.4 336.3,451.4" fill="#c0594d"/>
<polyline points="515,333 544.5,333 544.5,380" fill="none" stroke="#c0594d" stroke-width="3.2" stroke-linejoin="miter" />
<polygon points="544.5,388.3 539.7,379 549.3,379" fill="#c0594d"/>
<polyline points="160,474.6 309,474.6" fill="none" stroke="#0b8591" stroke-width="3.2" stroke-linejoin="miter" />
<polygon points="317.3,474.6 308,479.4 308,469.8" fill="#0b8591"/>
<polyline points="211.5,474.6 211.5,424" fill="none" stroke="#0b8591" stroke-width="3.2" stroke-linejoin="miter" />
<polygon points="211.5,415.7 216.3,425 206.7,425" fill="#0b8591"/>
<polyline points="345,475 544.5,475 544.5,425.1" fill="none" stroke="#0b8591" stroke-width="3.2" stroke-linejoin="miter" />
<polygon points="544.5,416.8 549.3,426.1 539.7,426.1" fill="#0b8591"/>
<polyline points="376.5,475 376.5,424" fill="none" stroke="#0b8591" stroke-width="3.2" stroke-linejoin="miter" />
<polygon points="376.5,415.7 381.3,425 371.7,425" fill="#0b8591"/>
<polyline points="500.75,475 500.75,424" fill="none" stroke="#0b8591" stroke-width="3.2" stroke-linejoin="miter" />
<polygon points="500.75,415.7 505.55,425 495.95,425" fill="#0b8591"/>
<polyline points="500.75,388 500.75,355.6" fill="none" stroke="#0b8591" stroke-width="3.2" stroke-linejoin="miter" />
<polygon points="500.75,347.3 505.55,356.6 495.95,356.6" fill="#0b8591"/>
<polyline points="225.5,401.5 236.7,401.5" fill="none" stroke="#000" stroke-width="3.3" stroke-linejoin="miter" />
<polygon points="245,401.5 235.7,406.3 235.7,396.7" fill="#000"/>
<polyline points="297.5,401.5 308.9,401.5" fill="none" stroke="#000" stroke-width="3.3" stroke-linejoin="miter" />
<polygon points="317.2,401.5 307.9,406.3 307.9,396.7" fill="#000"/>
<polyline points="390.5,401.5 405.7,401.5" fill="none" stroke="#000" stroke-width="3.3" stroke-linejoin="miter" />
<polygon points="414,401.5 404.7,406.3 404.7,396.7" fill="#000"/>
<polyline points="466.5,401.5 478.1,401.5" fill="none" stroke="#000" stroke-width="3.3" stroke-linejoin="miter" />
<polygon points="486.4,401.5 477.1,406.3 477.1,396.7" fill="#000"/>
<polyline points="558.5,402.5 567.2,402.5" fill="none" stroke="#000" stroke-width="3.3" stroke-linejoin="miter" />
<polygon points="575.5,402.5 566.2,407.3 566.2,397.7" fill="#000"/>
<circle cx="211.5" cy="401.5" r="14.3" fill="#fff" stroke="#000" stroke-width="1.4"/>
<path d="M201.39 391.39L221.61 411.61M201.39 411.61L221.61 391.39" stroke="#000" stroke-width="1.4" fill="none"/>
<circle cx="331.5" cy="401.5" r="14.3" fill="#fff" stroke="#000" stroke-width="1.4"/>
<path d="M321.39 391.39L341.61 411.61M321.39 411.61L341.61 391.39" stroke="#000" stroke-width="1.4" fill="none"/>
<circle cx="376.5" cy="401.5" r="14.3" fill="#fff" stroke="#000" stroke-width="1.4"/>
<path d="M366.39 391.39L386.61 411.61M366.39 411.61L386.61 391.39" stroke="#000" stroke-width="1.4" fill="none"/>
<circle cx="500.75" cy="401.5" r="14.3" fill="#fff" stroke="#000" stroke-width="1.4"/>
<path d="M490.64 391.39L510.86 411.61M490.64 411.61L510.86 391.39" stroke="#000" stroke-width="1.4" fill="none"/>
<circle cx="500.75" cy="333" r="14.3" fill="#fff" stroke="#000" stroke-width="1.4"/>
<path d="M493.75 333H507.75M500.75 326V340" stroke="#000" stroke-width="2" fill="none"/>
<circle cx="544.5" cy="402.5" r="14.3" fill="#fff" stroke="#000" stroke-width="1.4"/>
<path d="M537.5 402.5H551.5M544.5 395.5V409.5" stroke="#000" stroke-width="2" fill="none"/>
<circle cx="331.5" cy="475" r="14.3" fill="#fff" stroke="#000" stroke-width="1.4"/>
<path d="M324.5 475H338.5M331.5 468V482" stroke="#000" stroke-width="2" fill="none"/>
<rect x="246" y="369" width="25.4" height="65" rx="4" fill="#fff" stroke="#0e2358" stroke-width="1.8"/>
<text transform="translate(265 401.5) rotate(-90)" font-size="16.5" text-anchor="middle">Norm</text>
<rect x="271.4" y="369" width="25.9" height="65" rx="4" fill="#fff" stroke="#0e2358" stroke-width="1.8"/>
<text transform="translate(290.65 401.5) rotate(-90)" font-size="16.5" text-anchor="middle">Tanh</text>
<rect x="414" y="369" width="25.75" height="65" rx="4" fill="#fff" stroke="#0e2358" stroke-width="1.8"/>
<text transform="translate(433.18 401.5) rotate(-90)" font-size="16.5" text-anchor="middle">Norm</text>
<rect x="439.75" y="369" width="26.75" height="65" rx="4" fill="#fff" stroke="#0e2358" stroke-width="1.8"/>
<text transform="translate(459.43 401.5) rotate(-90)" font-size="16.5" text-anchor="middle">Tanh</text>
<polygon points="575.75,377.5 598,356 610,356 587.75,377.5" fill="url(#gOutT)" stroke="#000" stroke-width="1.5" stroke-linejoin="round" />
<polygon points="587.75,377.5 610,356 610,422.5 587.75,444" fill="url(#gOutS)" stroke="#000" stroke-width="1.5" stroke-linejoin="round" />
<polygon points="575.75,377.5 587.75,377.5 587.75,444 575.75,444" fill="url(#gOutF)" stroke="#000" stroke-width="1.5" stroke-linejoin="round" />
<text x="182.5" y="324.2" font-size="16.5" font-style="italic" >reshape</text>
<text x="218.75" y="356.7" font-size="16.5" font-style="italic" >transpose</text>
<text x="181.25" y="492.7" font-size="16.5" font-style="italic" >reshape</text>
<text x="384.5" y="465.7" font-size="16.5" font-style="italic" >transpose</text>
<text x="517" y="326.7" font-size="16.5" font-style="italic" >reshape</text>
<text x="511.5" y="494" font-size="16.5" font-style="italic" >reshape</text>
<text x="253.75" y="452.7" font-size="17.5" font-style="italic" >M</text>
<text x="269" y="452.7" font-size="15.5" font-style="italic" >e,a</text>
<text x="424.5" y="360.2" font-size="17.5" font-style="italic" >M</text>
<text x="439.8" y="360.2" font-size="15.5" font-style="italic" >a,e</text>
<text x="180.3" y="355.8" font-size="25.5" font-style="italic">F</text>
<text x="195.8" y="362.8" font-size="13" font-style="italic" font-weight="normal">e</text>
<text x="178.5" y="460.3" font-size="25.5" font-style="italic">F</text>
<text x="194" y="466.8" font-size="13" font-style="italic" font-weight="normal">a</text>
<text x="582" y="472.8" font-size="25" font-style="italic">F</text>
<text x="600.5" y="473.6" font-size="12.5" font-style="normal" font-weight="normal">5</text>
<text x="283.75" y="506.5" font-size="20.3" >(b) CSSP</text>
<polygon points="636.25,332.5 655.5,313 667.5,313 648.25,332.5" fill="#f6cfc6" stroke="#000" stroke-width="1.5" stroke-linejoin="round" />
<polygon points="648.25,332.5 667.5,313 667.5,358.5 648.25,378" fill="#cf958c" stroke="#000" stroke-width="1.5" stroke-linejoin="round" />
<polygon points="636.25,332.5 648.25,332.5 648.25,378 636.25,378" fill="#f9c3b8" stroke="#000" stroke-width="1.5" stroke-linejoin="round" />
<polygon points="630.75,434.5 655.75,409.5 667.5,409.5 642.5,434.5" fill="#8fd0ce" stroke="#000" stroke-width="1.5" stroke-linejoin="round" />
<polygon points="642.5,434.5 667.5,409.5 667.5,473.25 642.5,498.25" fill="#5f9c9c" stroke="#000" stroke-width="1.5" stroke-linejoin="round" />
<polygon points="630.75,434.5 642.5,434.5 642.5,498.25 630.75,498.25" fill="#7fc9c7" stroke="#000" stroke-width="1.5" stroke-linejoin="round" />
<polyline points="660,338.5 755.75,338.5 755.75,380" fill="none" stroke="#000" stroke-width="3.3" stroke-linejoin="miter" />
<polyline points="755.75,370 755.75,379.2" fill="none" stroke="#000" stroke-width="3.3" stroke-linejoin="miter" />
<polygon points="755.75,387.5 750.95,378.2 760.55,378.2" fill="#000"/>
<polyline points="678,338.5 678,311.4 1170.4,311.4 1170.4,322" fill="none" stroke="#000" stroke-width="3.3" stroke-linejoin="miter" />
<polyline points="1170.4,315 1170.4,322" fill="none" stroke="#000" stroke-width="3.3" stroke-linejoin="miter" />
<polygon points="1170.4,330.3 1165.6,321 1175.2,321" fill="#000"/>
<polyline points="656.25,453.75 669.7,453.75" fill="none" stroke="#000" stroke-width="3.3" stroke-linejoin="miter" />
<polygon points="678,453.75 668.7,458.55 668.7,448.95" fill="#000"/>
<polyline points="740.5,453.75 755.75,453.75 755.75,420" fill="none" stroke="#000" stroke-width="3.3" stroke-linejoin="miter" />
<polyline points="755.75,428 755.75,420.3" fill="none" stroke="#000" stroke-width="3.3" stroke-linejoin="miter" />
<polygon points="755.75,412 760.55,421.3 750.95,421.3" fill="#000"/>
<polyline points="709.5,467 709.5,486.5 1170.4,486.5 1170.4,478" fill="none" stroke="#000" stroke-width="3.3" stroke-linejoin="miter" />
<polyline points="1170.4,484 1170.4,479.1" fill="none" stroke="#000" stroke-width="3.3" stroke-linejoin="miter" />
<polygon points="1170.4,470.8 1175.2,480.1 1165.6,480.1" fill="#000"/>
<polyline points="786.25,399 802.5,399" fill="none" stroke="#000" stroke-width="3.3" stroke-linejoin="miter" />
<polyline points="802.5,400 802.5,363.3" fill="none" stroke="#000" stroke-width="3.3" stroke-linejoin="miter" />
<polygon points="802.5,355 807.3,364.3 797.7,364.3" fill="#000"/>
<polyline points="802.5,398 802.5,437.45" fill="none" stroke="#000" stroke-width="3.3" stroke-linejoin="miter" />
<polygon points="802.5,445.75 797.7,436.45 807.3,436.45" fill="#000"/>
<polyline points="830.5,342.25 851.7,342.25" fill="none" stroke="#000" stroke-width="3.3" stroke-linejoin="miter" />
<polygon points="860,342.25 850.7,347.05 850.7,337.45" fill="#000"/>
<polyline points="830.5,459 852.2,459" fill="none" stroke="#000" stroke-width="3.3" stroke-linejoin="miter" />
<polygon points="860.5,459 851.2,463.8 851.2,454.2" fill="#000"/>
<clipPath id="fc1"><polygon points="852.4,356.2 892.8,315.1 912.7,315.1 871.5,356.2"/></clipPath>
<g clip-path="url(#fc1)"><polygon points="852.4,356.2 892.8,315.1 912.7,315.1 871.5,356.2" fill="#fbb5a6"/><polygon points="852.4,356.2 892.8,315.1 912.7,315.1 871.5,356.2" fill="none" stroke="#fff" stroke-width="4.6" filter="url(#bl3)"/></g>
<polygon points="852.4,356.2 892.8,315.1 912.7,315.1 871.5,356.2" fill="none" stroke="#000" stroke-width="1.3" stroke-linejoin="round"/>
<clipPath id="fc2"><polygon points="871.5,356.2 912.7,315.1 912.7,333.8 871.5,374.9"/></clipPath>
<g clip-path="url(#fc2)"><polygon points="871.5,356.2 912.7,315.1 912.7,333.8 871.5,374.9" fill="#fbb5a6"/><polygon points="871.5,356.2 912.7,315.1 912.7,333.8 871.5,374.9" fill="none" stroke="#fff" stroke-width="4.6" filter="url(#bl3)"/></g>
<polygon points="871.5,356.2 912.7,315.1 912.7,333.8 871.5,374.9" fill="none" stroke="#000" stroke-width="1.3" stroke-linejoin="round"/>
<clipPath id="fc3"><polygon points="852.4,356.2 871.5,356.2 871.5,374.9 852.4,374.9"/></clipPath>
<g clip-path="url(#fc3)"><polygon points="852.4,356.2 871.5,356.2 871.5,374.9 852.4,374.9" fill="#fbb5a6"/><polygon points="852.4,356.2 871.5,356.2 871.5,374.9 852.4,374.9" fill="none" stroke="#fff" stroke-width="5.6" filter="url(#bl3)"/></g>
<polygon points="852.4,356.2 871.5,356.2 871.5,374.9 852.4,374.9" fill="none" stroke="#000" stroke-width="1.3" stroke-linejoin="round"/>
<clipPath id="fc4"><polygon points="860.6,462.8 901.2,421.6 920.7,421.6 879.5,462.8"/></clipPath>
<g clip-path="url(#fc4)"><polygon points="860.6,462.8 901.2,421.6 920.7,421.6 879.5,462.8" fill="#78c2bf"/><polygon points="860.6,462.8 901.2,421.6 920.7,421.6 879.5,462.8" fill="none" stroke="#fff" stroke-width="4.6" filter="url(#bl3)"/></g>
<polygon points="860.6,462.8 901.2,421.6 920.7,421.6 879.5,462.8" fill="none" stroke="#000" stroke-width="1.3" stroke-linejoin="round"/>
<clipPath id="fc5"><polygon points="879.5,462.8 920.7,421.6 920.7,441 879.5,482.2"/></clipPath>
<g clip-path="url(#fc5)"><polygon points="879.5,462.8 920.7,421.6 920.7,441 879.5,482.2" fill="#78c2bf"/><polygon points="879.5,462.8 920.7,421.6 920.7,441 879.5,482.2" fill="none" stroke="#fff" stroke-width="4.6" filter="url(#bl3)"/></g>
<polygon points="879.5,462.8 920.7,421.6 920.7,441 879.5,482.2" fill="none" stroke="#000" stroke-width="1.3" stroke-linejoin="round"/>
<clipPath id="fc6"><polygon points="860.6,462.8 879.5,462.8 879.5,482.2 860.6,482.2"/></clipPath>
<g clip-path="url(#fc6)"><polygon points="860.6,462.8 879.5,462.8 879.5,482.2 860.6,482.2" fill="#78c2bf"/><polygon points="860.6,462.8 879.5,462.8 879.5,482.2 860.6,482.2" fill="none" stroke="#fff" stroke-width="5.6" filter="url(#bl3)"/></g>
<polygon points="860.6,462.8 879.5,462.8 879.5,482.2 860.6,482.2" fill="none" stroke="#000" stroke-width="1.3" stroke-linejoin="round"/>
<linearGradient id="gp26" gradientUnits="userSpaceOnUse" x1="1078.5" y1="374.9" x2="1138.3" y2="315.6"><stop offset="0" stop-color="#fcc0b3"/><stop offset="0.3" stop-color="#f9876f"/><stop offset="0.5" stop-color="#f6664b"/><stop offset="0.72" stop-color="#fa9f8c"/><stop offset="1" stop-color="#fdd5cc"/></linearGradient>
<clipPath id="fc7"><polygon points="1078.5,356.2 1118.9,315.6 1138.3,315.6 1098,356.2"/></clipPath>
<g clip-path="url(#fc7)"><polygon points="1078.5,356.2 1118.9,315.6 1138.3,315.6 1098,356.2" fill="url(#gp26)"/><polygon points="1078.5,356.2 1118.9,315.6 1138.3,315.6 1098,356.2" fill="none" stroke="#fff" stroke-width="4.6" filter="url(#bl3)"/></g>
<polygon points="1078.5,356.2 1118.9,315.6 1138.3,315.6 1098,356.2" fill="none" stroke="#000" stroke-width="1.3" stroke-linejoin="round"/>
<clipPath id="fc8"><polygon points="1098,356.2 1138.3,315.6 1138.3,334.3 1098,374.9"/></clipPath>
<g clip-path="url(#fc8)"><polygon points="1098,356.2 1138.3,315.6 1138.3,334.3 1098,374.9" fill="url(#gp26)"/><polygon points="1098,356.2 1138.3,315.6 1138.3,334.3 1098,374.9" fill="none" stroke="#fff" stroke-width="4.6" filter="url(#bl3)"/></g>
<polygon points="1098,356.2 1138.3,315.6 1138.3,334.3 1098,374.9" fill="none" stroke="#000" stroke-width="1.3" stroke-linejoin="round"/>
<clipPath id="fc9"><polygon points="1078.5,356.2 1098,356.2 1098,374.9 1078.5,374.9"/></clipPath>
<g clip-path="url(#fc9)"><polygon points="1078.5,356.2 1098,356.2 1098,374.9 1078.5,374.9" fill="#fbb9ab"/><polygon points="1078.5,356.2 1098,356.2 1098,374.9 1078.5,374.9" fill="none" stroke="#fff" stroke-width="5.6" filter="url(#bl3)"/></g>
<polygon points="1078.5,356.2 1098,356.2 1098,374.9 1078.5,374.9" fill="none" stroke="#000" stroke-width="1.3" stroke-linejoin="round"/>
<linearGradient id="gt29" gradientUnits="userSpaceOnUse" x1="1082.7" y1="482.2" x2="1142.5" y2="421.6"><stop offset="0" stop-color="#5fc0bc"/><stop offset="0.3" stop-color="#3f9c9c"/><stop offset="0.5" stop-color="#2f8587"/><stop offset="0.72" stop-color="#45b0ad"/><stop offset="1" stop-color="#8fd6d2"/></linearGradient>
<clipPath id="fc10"><polygon points="1082.7,462.8 1123.6,421.6 1142.5,421.6 1101.8,462.8"/></clipPath>
<g clip-path="url(#fc10)"><polygon points="1082.7,462.8 1123.6,421.6 1142.5,421.6 1101.8,462.8" fill="url(#gt29)"/><polygon points="1082.7,462.8 1123.6,421.6 1142.5,421.6 1101.8,462.8" fill="none" stroke="#fff" stroke-width="4.6" filter="url(#bl3)"/></g>
<polygon points="1082.7,462.8 1123.6,421.6 1142.5,421.6 1101.8,462.8" fill="none" stroke="#000" stroke-width="1.3" stroke-linejoin="round"/>
<clipPath id="fc11"><polygon points="1101.8,462.8 1142.5,421.6 1142.5,441 1101.8,482.2"/></clipPath>
<g clip-path="url(#fc11)"><polygon points="1101.8,462.8 1142.5,421.6 1142.5,441 1101.8,482.2" fill="url(#gt29)"/><polygon points="1101.8,462.8 1142.5,421.6 1142.5,441 1101.8,482.2" fill="none" stroke="#fff" stroke-width="4.6" filter="url(#bl3)"/></g>
<polygon points="1101.8,462.8 1142.5,421.6 1142.5,441 1101.8,482.2" fill="none" stroke="#000" stroke-width="1.3" stroke-linejoin="round"/>
<clipPath id="fc12"><polygon points="1082.7,462.8 1101.8,462.8 1101.8,482.2 1082.7,482.2"/></clipPath>
<g clip-path="url(#fc12)"><polygon points="1082.7,462.8 1101.8,462.8 1101.8,482.2 1082.7,482.2" fill="#6cc6c2"/><polygon points="1082.7,462.8 1101.8,462.8 1101.8,482.2 1082.7,482.2" fill="none" stroke="#fff" stroke-width="5.6" filter="url(#bl3)"/></g>
<polygon points="1082.7,462.8 1101.8,462.8 1101.8,482.2 1082.7,482.2" fill="none" stroke="#000" stroke-width="1.3" stroke-linejoin="round"/>
<polyline points="891.25,359 891.25,378.2" fill="none" stroke="#000" stroke-width="3.3" stroke-linejoin="miter" />
<polygon points="891.25,386.5 886.45,377.2 896.05,377.2" fill="#000"/>
<polyline points="891.25,442 891.25,423.3" fill="none" stroke="#000" stroke-width="3.3" stroke-linejoin="miter" />
<polygon points="891.25,415 896.05,424.3 886.45,424.3" fill="#000"/>
<polyline points="905.5,400.5 916.2,400.5" fill="none" stroke="#000" stroke-width="3.3" stroke-linejoin="miter" />
<polygon points="924.5,400.5 915.2,405.3 915.2,395.7" fill="#000"/>
<polyline points="953.25,400.5 963.2,400.5" fill="none" stroke="#000" stroke-width="3.3" stroke-linejoin="miter" />
<polygon points="971.5,400.5 962.2,405.3 962.2,395.7" fill="#000"/>
<polyline points="910,346 1017.4,346" fill="none" stroke="#000" stroke-width="3.3" stroke-linejoin="miter" />
<polygon points="1025.7,346 1016.4,350.8 1016.4,341.2" fill="#000"/>
<polyline points="913.75,455.75 1017.4,455.75" fill="none" stroke="#000" stroke-width="3.3" stroke-linejoin="miter" />
<polygon points="1025.7,455.75 1016.4,460.55 1016.4,450.95" fill="#000"/>
<polyline points="1022.5,400 1040,400" fill="none" stroke="#000" stroke-width="3.3" stroke-linejoin="miter" />
<polyline points="1040,401 1040,368.1" fill="none" stroke="#000" stroke-width="3.3" stroke-linejoin="miter" />
<polygon points="1040,359.8 1044.8,369.1 1035.2,369.1" fill="#000"/>
<polyline points="1040,399 1040,433.2" fill="none" stroke="#000" stroke-width="3.3" stroke-linejoin="miter" />
<polygon points="1040,441.5 1035.2,432.2 1044.8,432.2" fill="#000"/>
<polyline points="1054.3,345.5 1079.2,345.5" fill="none" stroke="#000" stroke-width="3.3" stroke-linejoin="miter" />
<polygon points="1087.5,345.5 1078.2,350.3 1078.2,340.7" fill="#000"/>
<polyline points="1054.3,455.75 1076.2,455.75" fill="none" stroke="#000" stroke-width="3.3" stroke-linejoin="miter" />
<polygon points="1084.5,455.75 1075.2,460.55 1075.2,450.95" fill="#000"/>
<polyline points="1120,343.75 1147.7,343.75" fill="none" stroke="#000" stroke-width="3.3" stroke-linejoin="miter" />
<polygon points="1156,343.75 1146.7,348.55 1146.7,338.95" fill="#000"/>
<polyline points="1118.75,455 1147.7,455" fill="none" stroke="#000" stroke-width="3.3" stroke-linejoin="miter" />
<polygon points="1156,455 1146.7,459.8 1146.7,450.2" fill="#000"/>
<polyline points="1170.4,359 1170.4,377" fill="none" stroke="#000" stroke-width="3.3" stroke-linejoin="miter" />
<polygon points="1170.4,385.3 1165.6,376 1175.2,376" fill="#000"/>
<polyline points="1170.4,442 1170.4,422.1" fill="none" stroke="#000" stroke-width="3.3" stroke-linejoin="miter" />
<polygon points="1170.4,413.8 1175.2,423.1 1165.6,423.1" fill="#000"/>
<polyline points="1184.5,399.5 1194.7,399.5" fill="none" stroke="#000" stroke-width="3.3" stroke-linejoin="miter" />
<polygon points="1203,399.5 1193.7,404.3 1193.7,394.7" fill="#000"/>
<circle cx="891.25" cy="400.75" r="14.3" fill="#fff" stroke="#000" stroke-width="1.4"/>
<path d="M881.14 390.64L901.36 410.86M881.14 410.86L901.36 390.64" stroke="#000" stroke-width="1.4" fill="none"/>
<circle cx="1040" cy="345.5" r="14.3" fill="#fff" stroke="#000" stroke-width="1.4"/>
<path d="M1029.89 335.39L1050.11 355.61M1029.89 355.61L1050.11 335.39" stroke="#000" stroke-width="1.4" fill="none"/>
<circle cx="1040" cy="455.75" r="14.3" fill="#fff" stroke="#000" stroke-width="1.4"/>
<path d="M1029.89 445.64L1050.11 465.86M1029.89 465.86L1050.11 445.64" stroke="#000" stroke-width="1.4" fill="none"/>
<circle cx="1170.4" cy="344.8" r="14.3" fill="#fff" stroke="#000" stroke-width="1.4"/>
<circle cx="1170.4" cy="344.8" r="3" fill="#000"/>
<circle cx="1170.4" cy="456.25" r="14.3" fill="#fff" stroke="#000" stroke-width="1.4"/>
<circle cx="1170.4" cy="456.25" r="3" fill="#000"/>
<circle cx="1170.2" cy="399.5" r="14.3" fill="#fff" stroke="#000" stroke-width="1.4"/>
<path d="M1163.2 399.5H1177.2M1170.2 392.5V406.5" stroke="#000" stroke-width="2" fill="none"/>
<rect x="775.5" y="329.25" width="55" height="25.75" rx="5" fill="#fff" stroke="#0e2358" stroke-width="1.9" />
<text x="803" y="348.32" font-size="16.5" text-anchor="middle" >FC</text>
<rect x="775.5" y="445.75" width="55" height="26.25" rx="5" fill="#fff" stroke="#0e2358" stroke-width="1.9" />
<text x="803" y="465.07" font-size="16.5" text-anchor="middle" >FC</text>
<rect x="725" y="387.5" width="61.25" height="24.5" rx="5" fill="#e7e6e6" stroke="#0e2358" stroke-width="1.9" />
<text x="755.62" y="405.95" font-size="16.5" text-anchor="middle" >GAP</text>
<rect x="678" y="440.75" width="62.5" height="26.25" rx="5" fill="#fff" stroke="#0e2358" stroke-width="1.9" />
<text x="709.25" y="460.07" font-size="16.5" text-anchor="middle" >Conv</text>
<rect x="924.5" y="358" width="28.75" height="86" rx="5" fill="#e7e6e6" stroke="#0e2358" stroke-width="1.8"/>
<text transform="translate(945.2 401.6) rotate(-90)" font-size="16.5" text-anchor="middle">SoftMax</text>
<rect x="971.65" y="375.4" width="16.3" height="16.3" fill="#2f5597"/>
<rect x="988.75" y="375.4" width="16.3" height="16.3" fill="#dae3f3"/>
<rect x="1005.85" y="375.4" width="16.3" height="16.3" fill="#8faadc"/>
<rect x="971.65" y="392.5" width="16.3" height="16.3" fill="#8faadc"/>
<rect x="988.75" y="392.5" width="16.3" height="16.3" fill="#203864"/>
<rect x="1005.85" y="392.5" width="16.3" height="16.3" fill="#4472c4"/>
<rect x="971.65" y="409.6" width="16.3" height="16.3" fill="#dae3f3"/>
<rect x="988.75" y="409.6" width="16.3" height="16.3" fill="#203864"/>
<rect x="1005.85" y="409.6" width="16.3" height="16.3" fill="#2f5597"/>
<clipPath id="fc13"><polygon points="1202.8,387.6 1222.1,368.3 1259.4,368.3 1240.1,387.6"/></clipPath>
<g clip-path="url(#fc13)"><polygon points="1202.8,387.6 1222.1,368.3 1259.4,368.3 1240.1,387.6" fill="url(#gCbT)"/><polygon points="1202.8,387.6 1222.1,368.3 1259.4,368.3 1240.1,387.6" fill="none" stroke="#fff" stroke-width="5.5" filter="url(#bl4)"/></g>
<polygon points="1202.8,387.6 1222.1,368.3 1259.4,368.3 1240.1,387.6" fill="none" stroke="#000" stroke-width="1.3" stroke-linejoin="round"/>
<clipPath id="fc14"><polygon points="1240.1,387.6 1259.4,368.3 1259.4,406.3 1240.1,425.6"/></clipPath>
<g clip-path="url(#fc14)"><polygon points="1240.1,387.6 1259.4,368.3 1259.4,406.3 1240.1,425.6" fill="url(#gCbS)"/><polygon points="1240.1,387.6 1259.4,368.3 1259.4,406.3 1240.1,425.6" fill="none" stroke="#fff" stroke-width="5.5" filter="url(#bl4)"/></g>
<polygon points="1240.1,387.6 1259.4,368.3 1259.4,406.3 1240.1,425.6" fill="none" stroke="#000" stroke-width="1.3" stroke-linejoin="round"/>
<clipPath id="fc15"><polygon points="1202.8,387.6 1240.1,387.6 1240.1,425.6 1202.8,425.6"/></clipPath>
<g clip-path="url(#fc15)"><polygon points="1202.8,387.6 1240.1,387.6 1240.1,425.6 1202.8,425.6" fill="url(#gCbF)"/><polygon points="1202.8,387.6 1240.1,387.6 1240.1,425.6 1202.8,425.6" fill="none" stroke="#fff" stroke-width="7" filter="url(#bl4)"/></g>
<polygon points="1202.8,387.6 1240.1,387.6 1240.1,425.6 1202.8,425.6" fill="none" stroke="#000" stroke-width="1.3" stroke-linejoin="round"/>
<polygon points="1202.8,387.6 1240.1,387.6 1240.1,425.6 1202.8,425.6" fill="none" stroke="#000" stroke-width="1.6" stroke-linejoin="round"/>
<text x="919.7" y="333.7" font-size="16.5" >C</text>
<text x="935.58" y="336.72" font-size="23" font-weight="bold">×</text>
<text x="951.6" y="333.7" font-size="16.5" >1</text>
<text x="963.77" y="336.72" font-size="23" font-weight="bold">×</text>
<text x="980.4" y="333.7" font-size="16.5" >1</text>
<text x="901.5" y="481.5" font-size="16.5" >C</text>
<text x="917.38" y="484.52" font-size="23" font-weight="bold">×</text>
<text x="933.4" y="481.5" font-size="16.5" >1</text>
<text x="945.57" y="484.52" font-size="23" font-weight="bold">×</text>
<text x="962.2" y="481.5" font-size="16.5" >1</text>
<text x="976.6" y="371.7" font-size="16.5" >C</text>
<text x="992.57" y="374.72" font-size="23" font-weight="bold">×</text>
<text x="1008.5" y="371.7" font-size="16.5" >C</text>
<text x="817" y="385.3" font-size="16.5" font-style="italic" >transpose</text>
<text x="1045" y="385.7" font-size="16.5" font-style="italic" >transpose</text>
<text x="670" y="373.3" font-size="25" font-style="italic">F</text>
<text x="688.5" y="373.8" font-size="14" font-style="italic" font-weight="normal">l</text>
<text x="670" y="497.3" font-size="25" font-style="italic">F</text>
<text x="688.5" y="497.8" font-size="13" font-style="italic" font-weight="normal">l</text>
<path d="M669.5 474.6H688" stroke="#000" stroke-width="1.2"/>
<text x="693.5" y="497.7" font-size="12.5" font-weight="normal" >−1</text>
<text x="1213.8" y="452.9" font-size="25" font-style="italic">F</text>
<text x="1233.3" y="453.4" font-size="14" font-style="italic" font-weight="normal">l</text>
<path d="M1213.3 430.2H1231.8" stroke="#000" stroke-width="1.2"/>
<text x="891.25" y="507.4" font-size="20.3" >(c) CAFR</text>
<circle cx="971.5" cy="21.25" r="14" fill="#fff" stroke="#000" stroke-width="1.4"/>
<path d="M961.6 11.35L981.4 31.15M961.6 31.15L981.4 11.35" stroke="#000" stroke-width="1.4" fill="none"/>
<text x="1006.5" y="27" font-size="16.5" >Matrix Multiplication</text>
<circle cx="971.5" cy="56.25" r="14" fill="#fff" stroke="#000" stroke-width="1.4"/>
<circle cx="971.5" cy="56.25" r="3" fill="#000"/>
<text x="1006.5" y="61" font-size="16.5" >Element-wise Multiplication</text>
<circle cx="971.5" cy="91.25" r="14" fill="#fff" stroke="#000" stroke-width="1.4"/>
<path d="M964.5 91.25H978.5M971.5 84.25V98.25" stroke="#000" stroke-width="2" fill="none"/>
<text x="1006.5" y="97" font-size="16.5" >Addition</text>
<circle cx="1129.75" cy="91.25" r="14" fill="#fff" stroke="#000" stroke-width="1.4"/>
<path d="M1122.75 91.25H1136.75" stroke="#000" stroke-width="2" fill="none"/>
<text x="1163.5" y="97" font-size="16.5" >Subtraction</text>
<circle cx="972" cy="127.9" r="14" fill="#fff" stroke="#000" stroke-width="1.4"/>
<text x="972.3" y="134.25" font-size="20.5" text-anchor="middle" font-weight="normal" font-style="italic" >Σ</text>
<text x="1006.5" y="134.25" font-size="16.5" >Summation</text>
<path d="M1114.75 128.5H1127.5" stroke="#a6a6a6" stroke-width="3"/>
<path d="M1136.5 128.5H1143" stroke="#a6a6a6" stroke-width="3"/>
<polygon points="1152.5,128.5 1142,124.2 1142,132.8" fill="#a6a6a6"/>
<text x="1163.5" y="134.25" font-size="16.5" >Supervision</text>
<polyline points="958,153.5 989.5,153.5" fill="none" stroke="#c00000" stroke-width="2.4" stroke-linejoin="miter" />
<polygon points="997.5,153.5 988.5,157.5 988.5,149.5" fill="#c00000"/>
<text x="1006.5" y="159.25" font-size="16.5" >Top-down</text>
<polyline points="1114.75,153.5 1145,153.5" fill="none" stroke="#2e75b6" stroke-width="2.4" stroke-linejoin="miter" />
<polygon points="1153,153.5 1144,157.5 1144,149.5" fill="#2e75b6"/>
<text x="1163.5" y="159.25" font-size="16.5" >Bottom-up</text>
<rect x="957.25" y="167.75" width="62" height="25.75" rx="5" fill="#fff" stroke="#0e2358" stroke-width="1.9" />
<text x="988.25" y="186.38" font-size="16.5" text-anchor="middle" >US</text>
<text x="1030.5" y="186.75" font-size="16.5" >UpSample</text>
<rect x="1113.5" y="167.75" width="65" height="25.75" rx="5" fill="#fff" stroke="#0e2358" stroke-width="1.9" />
<text x="1146" y="186.38" font-size="16.5" text-anchor="middle" >Norm</text>
<text x="1186" y="186.75" font-size="16.5" >L2 Norm</text>
<rect x="957.25" y="201" width="62" height="25.5" rx="5" fill="#fff" stroke="#0e2358" stroke-width="1.9" />
<text x="988.25" y="219.5" font-size="16.5" text-anchor="middle" >Conv</text>
<text x="1030.5" y="219.75" font-size="16.5" >Convolutional Layer</text>
<rect x="957.25" y="234" width="62" height="26" rx="5" fill="#e7e6e6" stroke="#0e2358" stroke-width="1.9" />
<text x="988.25" y="252.75" font-size="16.5" text-anchor="middle" >GAP</text>
<text x="1029" y="253" font-size="16.5" >Global Average Pooling</text>
<rect x="957.5" y="267.5" width="62" height="26.75" rx="5" fill="#fff" stroke="#0e2358" stroke-width="1.9" />
<text x="988.5" y="286.62" font-size="16.5" text-anchor="middle" >FC</text>
<text x="1031.25" y="287" font-size="16.5" >Fully Connected Layer</text>
</svg>
</body></html>
